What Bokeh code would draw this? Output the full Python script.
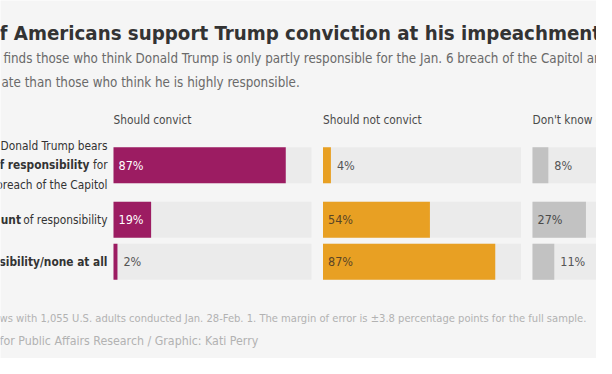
from bokeh.plotting import figure
from bokeh.models import Range1d, ColumnDataSource
from bokeh.core.properties import value
from bokeh.embed import file_html
from bokeh.resources import INLINE

# ---------------- data ----------------
title_text = "f Americans support Trump conviction at his impeachment t"
subtitle_lines = [
    "finds those who think Donald Trump is only partly responsible for the Jan. 6 breach of the Capitol are",
    "ate than those who think he is highly responsible.",
]
headers = ["Should convict", "Should not convict", "Don't know eno"]
should_convict = [87, 19, 2]
should_not_convict = [4, 54, 87]
dont_know = [8, 27, 11]
footer_lines = [
    "ws with 1,055 U.S. adults conducted Jan. 28-Feb. 1. The margin of error is \u00b13.8 percentage points for the full sample.",
    "for Public Affairs Research / Graphic: Kati Perry",
]

# ---------------- layout / style ----------------
FONT = "DejaVu Sans Condensed"
BG = "#f5f5f5"
TRACK = "#ebebeb"
colors = ["#9c1c62", "#e8a023", "#c2c2c2"]
inside_colors = ["#ffffff", "#5a4526", "#4a4a4a"]
panel_x0 = [113, 322.5, 532]
panel_w = 198.0           # width of 100 %
row_y = [164.7, 219.2, 261.3]
row_h = 36

W, H = 596, 358
p = figure(width=W, height=H, output_backend="svg", toolbar_location=None,
           x_range=Range1d(0, W), y_range=Range1d(H, 0),
           min_border=0, background_fill_color=BG, border_fill_color=BG,
           outline_line_color=None)
p.axis.visible = False
p.grid.visible = False

def txt(x, y, t, size, color, align="left", bold=False, baseline="middle"):
    p.text(x=[x], y=[y], text=[t], text_font=value(FONT), text_font_size=f"{size}px",
           text_color=color, text_align=align, text_baseline=baseline,
           text_font_style="bold" if bold else "normal")

# title / subtitle
txt(-1, 32.5, title_text, 20.3, "#333333", bold=True, baseline="alphabetic")
txt(3, 58, subtitle_lines[0], 13.3, "#6a6a6a")
txt(1, 82, subtitle_lines[1], 13.3, "#6a6a6a")

# column headers
HS = 11.8
for x0, h in zip(panel_x0, headers):
    txt(x0, 119, h, HS, "#4a4a4a")

# row labels
RL = 107
LS = 11.8
LC = "#333333"
txt(RL, row_y[0] - 19.5, "Donald Trump bears", LS, LC, align="right")
txt(89, row_y[0], "of responsibility", LS, LC, align="right", bold=True)
txt(RL, row_y[0], "for", LS, LC, align="right")
txt(RL, row_y[0] + 19.5, "breach of the Capitol", LS, LC, align="right")
txt(20.5, row_y[1], "unt", LS, LC, align="right", bold=True)
txt(RL, row_y[1], "of responsibility", LS, LC, align="right")
txt(RL, row_y[2], "onsibility/none at all", LS, LC, align="right", bold=True)

# bars
for k, vals in enumerate([should_convict, should_not_convict, dont_know]):
    x0 = panel_x0[k]
    scale = panel_w / 100.0
    src = ColumnDataSource(dict(
        y=row_y,
        left=[x0] * 3,
        right=[x0 + v * scale for v in vals],
        full=[x0 + 100 * scale] * 3,
    ))
    p.hbar(y="y", left="left", right="full", height=row_h, source=src,
           fill_color=TRACK, line_color=None)
    p.hbar(y="y", left="left", right="right", height=row_h, source=src,
           fill_color=colors[k], line_color=None)
    lx, lc, lt = [], [], []
    for v in vals:
        if v >= 15:
            lx.append(x0 + 5); lc.append(inside_colors[k])
        else:
            lx.append(x0 + v * scale + 6); lc.append("#555555")
        lt.append(f"{v}%")
    lsrc = ColumnDataSource(dict(x=lx, y=row_y, t=lt, c=lc))
    p.text(x="x", y="y", text="t", text_color="c", source=lsrc,
           text_font=value(FONT), text_font_size="12.5px",
           text_align="left", text_baseline="middle")

# footer
txt(-1, 318, footer_lines[0], 11.1, "#b2b2b2")
txt(-1, 340, footer_lines[1], 12.3, "#b2b2b2")

open("out.html", "w").write(file_html(p, INLINE))
